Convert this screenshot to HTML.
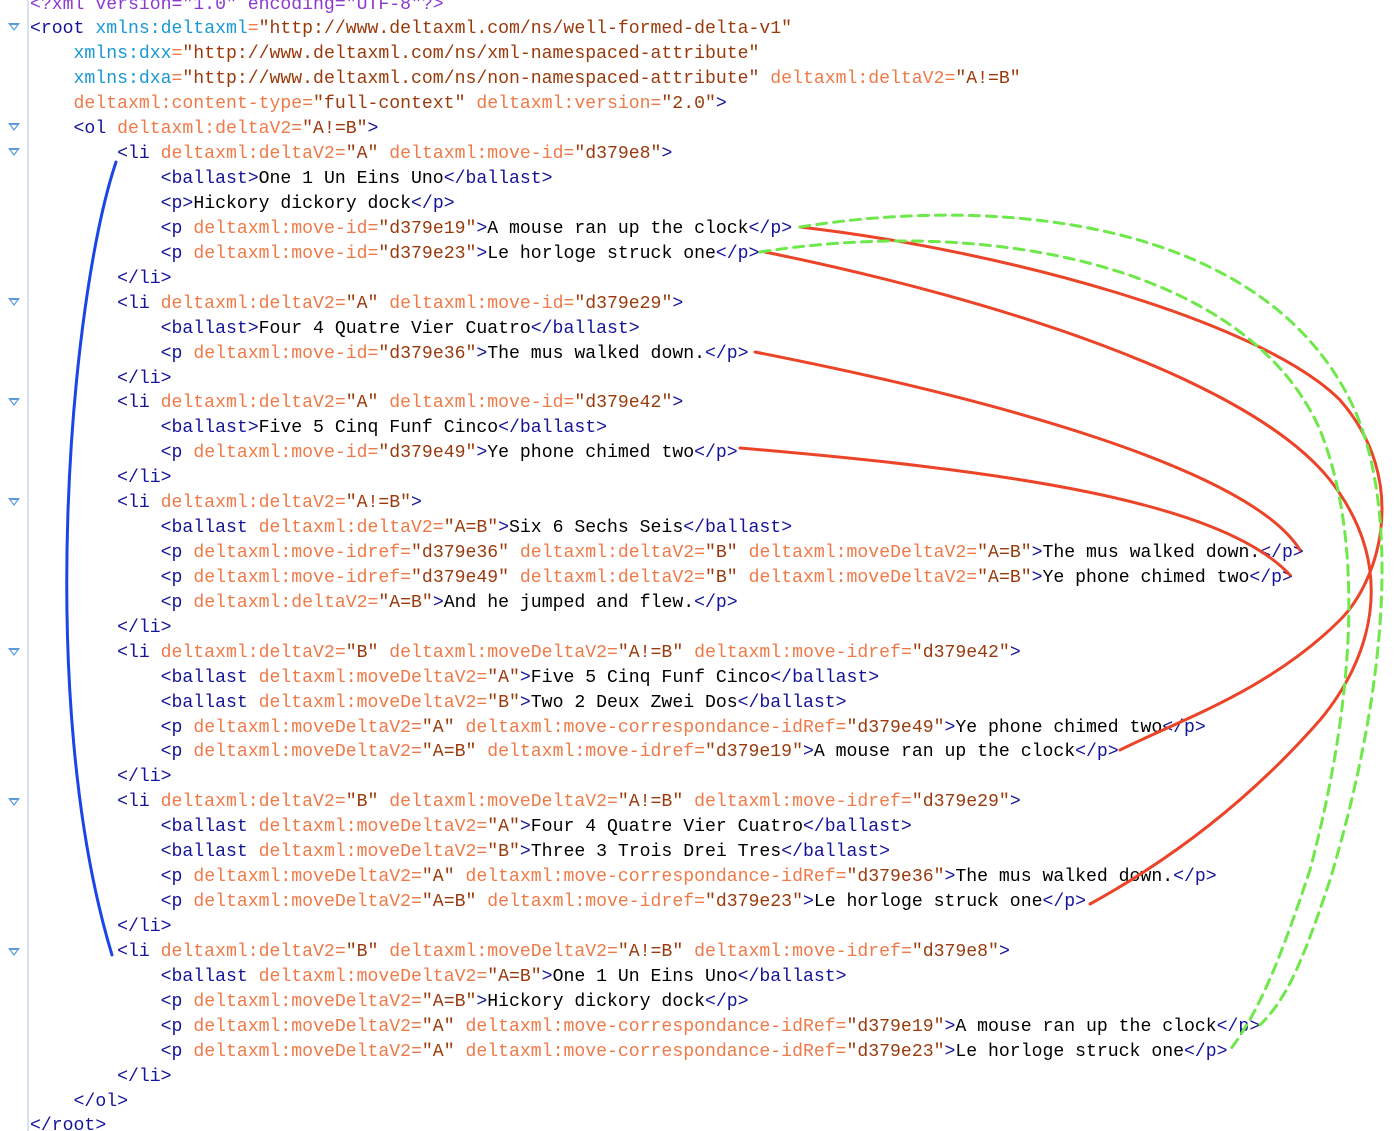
<!DOCTYPE html>
<html><head><meta charset="utf-8"><style>
html,body{margin:0;padding:0;background:#fff;width:1395px;height:1131px;overflow:hidden;position:relative}
.l{position:absolute;left:30px;height:25px;line-height:25px;white-space:pre;font-family:"Liberation Mono",monospace;font-size:18.15px;color:#000;margin-top:3px}
.t{color:#14149a}.a{color:#ef7a48}.v{color:#9a3a0c}.x{color:#1a98d2}.p{color:#8a3ad0}
.g{position:absolute;left:27px;top:0;width:2px;height:1131px;background:#d8e2ee}
.f{position:absolute;left:8px;width:0;height:0;border-left:6px solid transparent;border-right:6px solid transparent;border-top:8px solid #5a9ad8}
.f:after{content:"";position:absolute;left:-3px;top:-6px;border-left:3px solid transparent;border-right:3px solid transparent;border-top:4px solid #fff}
</style></head><body>
<div class="g"></div>
<div class="f" style="top:23px"></div><div class="f" style="top:123px"></div><div class="f" style="top:148px"></div>
<div class="f" style="top:298px"></div><div class="f" style="top:398px"></div><div class="f" style="top:498px"></div>
<div class="f" style="top:648px"></div><div class="f" style="top:798px"></div><div class="f" style="top:948px"></div>
<div class="l" style="top:-10.5px"><span class="p">&lt;?xml version="1.0" encoding="UTF-8"?&gt;</span></div>
<div class="l" style="top:14.4px"><span class="t">&lt;root </span><span class="x">xmlns:deltaxml</span><span class="a">=</span><span class="v">"http://www.deltaxml.com/ns/well-formed-delta-v1"</span></div>
<div class="l" style="top:39.4px">    <span class="x">xmlns:dxx</span><span class="a">=</span><span class="v">"http://www.deltaxml.com/ns/xml-namespaced-attribute"</span></div>
<div class="l" style="top:64.3px">    <span class="x">xmlns:dxa</span><span class="a">=</span><span class="v">"http://www.deltaxml.com/ns/non-namespaced-attribute"</span> <span class="a">deltaxml:deltaV2=</span><span class="v">"A!=B"</span></div>
<div class="l" style="top:89.2px">    <span class="a">deltaxml:content-type=</span><span class="v">"full-context"</span> <span class="a">deltaxml:version=</span><span class="v">"2.0"</span><span class="t">&gt;</span></div>
<div class="l" style="top:114.2px">    <span class="t">&lt;ol </span><span class="a">deltaxml:deltaV2=</span><span class="v">"A!=B"</span><span class="t">&gt;</span></div>
<div class="l" style="top:139.1px">        <span class="t">&lt;li </span><span class="a">deltaxml:deltaV2=</span><span class="v">"A"</span> <span class="a">deltaxml:move-id=</span><span class="v">"d379e8"</span><span class="t">&gt;</span></div>
<div class="l" style="top:164.0px">            <span class="t">&lt;ballast&gt;</span>One 1 Un Eins Uno<span class="t">&lt;/ballast&gt;</span></div>
<div class="l" style="top:189.0px">            <span class="t">&lt;p&gt;</span>Hickory dickory dock<span class="t">&lt;/p&gt;</span></div>
<div class="l" style="top:213.9px">            <span class="t">&lt;p </span><span class="a">deltaxml:move-id=</span><span class="v">"d379e19"</span><span class="t">&gt;</span>A mouse ran up the clock<span class="t">&lt;/p&gt;</span></div>
<div class="l" style="top:238.8px">            <span class="t">&lt;p </span><span class="a">deltaxml:move-id=</span><span class="v">"d379e23"</span><span class="t">&gt;</span>Le horloge struck one<span class="t">&lt;/p&gt;</span></div>
<div class="l" style="top:263.7px">        <span class="t">&lt;/li&gt;</span></div>
<div class="l" style="top:288.7px">        <span class="t">&lt;li </span><span class="a">deltaxml:deltaV2=</span><span class="v">"A"</span> <span class="a">deltaxml:move-id=</span><span class="v">"d379e29"</span><span class="t">&gt;</span></div>
<div class="l" style="top:313.6px">            <span class="t">&lt;ballast&gt;</span>Four 4 Quatre Vier Cuatro<span class="t">&lt;/ballast&gt;</span></div>
<div class="l" style="top:338.5px">            <span class="t">&lt;p </span><span class="a">deltaxml:move-id=</span><span class="v">"d379e36"</span><span class="t">&gt;</span>The mus walked down.<span class="t">&lt;/p&gt;</span></div>
<div class="l" style="top:363.5px">        <span class="t">&lt;/li&gt;</span></div>
<div class="l" style="top:388.4px">        <span class="t">&lt;li </span><span class="a">deltaxml:deltaV2=</span><span class="v">"A"</span> <span class="a">deltaxml:move-id=</span><span class="v">"d379e42"</span><span class="t">&gt;</span></div>
<div class="l" style="top:413.3px">            <span class="t">&lt;ballast&gt;</span>Five 5 Cinq Funf Cinco<span class="t">&lt;/ballast&gt;</span></div>
<div class="l" style="top:438.2px">            <span class="t">&lt;p </span><span class="a">deltaxml:move-id=</span><span class="v">"d379e49"</span><span class="t">&gt;</span>Ye phone chimed two<span class="t">&lt;/p&gt;</span></div>
<div class="l" style="top:463.2px">        <span class="t">&lt;/li&gt;</span></div>
<div class="l" style="top:488.1px">        <span class="t">&lt;li </span><span class="a">deltaxml:deltaV2=</span><span class="v">"A!=B"</span><span class="t">&gt;</span></div>
<div class="l" style="top:513.0px">            <span class="t">&lt;ballast </span><span class="a">deltaxml:deltaV2=</span><span class="v">"A=B"</span><span class="t">&gt;</span>Six 6 Sechs Seis<span class="t">&lt;/ballast&gt;</span></div>
<div class="l" style="top:538.0px">            <span class="t">&lt;p </span><span class="a">deltaxml:move-idref=</span><span class="v">"d379e36"</span> <span class="a">deltaxml:deltaV2=</span><span class="v">"B"</span> <span class="a">deltaxml:moveDeltaV2=</span><span class="v">"A=B"</span><span class="t">&gt;</span>The mus walked down.<span class="t">&lt;/p&gt;</span></div>
<div class="l" style="top:562.9px">            <span class="t">&lt;p </span><span class="a">deltaxml:move-idref=</span><span class="v">"d379e49"</span> <span class="a">deltaxml:deltaV2=</span><span class="v">"B"</span> <span class="a">deltaxml:moveDeltaV2=</span><span class="v">"A=B"</span><span class="t">&gt;</span>Ye phone chimed two<span class="t">&lt;/p&gt;</span></div>
<div class="l" style="top:587.8px">            <span class="t">&lt;p </span><span class="a">deltaxml:deltaV2=</span><span class="v">"A=B"</span><span class="t">&gt;</span>And he jumped and flew.<span class="t">&lt;/p&gt;</span></div>
<div class="l" style="top:612.8px">        <span class="t">&lt;/li&gt;</span></div>
<div class="l" style="top:637.7px">        <span class="t">&lt;li </span><span class="a">deltaxml:deltaV2=</span><span class="v">"B"</span> <span class="a">deltaxml:moveDeltaV2=</span><span class="v">"A!=B"</span> <span class="a">deltaxml:move-idref=</span><span class="v">"d379e42"</span><span class="t">&gt;</span></div>
<div class="l" style="top:662.6px">            <span class="t">&lt;ballast </span><span class="a">deltaxml:moveDeltaV2=</span><span class="v">"A"</span><span class="t">&gt;</span>Five 5 Cinq Funf Cinco<span class="t">&lt;/ballast&gt;</span></div>
<div class="l" style="top:687.5px">            <span class="t">&lt;ballast </span><span class="a">deltaxml:moveDeltaV2=</span><span class="v">"B"</span><span class="t">&gt;</span>Two 2 Deux Zwei Dos<span class="t">&lt;/ballast&gt;</span></div>
<div class="l" style="top:712.5px">            <span class="t">&lt;p </span><span class="a">deltaxml:moveDeltaV2=</span><span class="v">"A"</span> <span class="a">deltaxml:move-correspondance-idRef=</span><span class="v">"d379e49"</span><span class="t">&gt;</span>Ye phone chimed two<span class="t">&lt;/p&gt;</span></div>
<div class="l" style="top:737.4px">            <span class="t">&lt;p </span><span class="a">deltaxml:moveDeltaV2=</span><span class="v">"A=B"</span> <span class="a">deltaxml:move-idref=</span><span class="v">"d379e19"</span><span class="t">&gt;</span>A mouse ran up the clock<span class="t">&lt;/p&gt;</span></div>
<div class="l" style="top:762.3px">        <span class="t">&lt;/li&gt;</span></div>
<div class="l" style="top:787.3px">        <span class="t">&lt;li </span><span class="a">deltaxml:deltaV2=</span><span class="v">"B"</span> <span class="a">deltaxml:moveDeltaV2=</span><span class="v">"A!=B"</span> <span class="a">deltaxml:move-idref=</span><span class="v">"d379e29"</span><span class="t">&gt;</span></div>
<div class="l" style="top:812.2px">            <span class="t">&lt;ballast </span><span class="a">deltaxml:moveDeltaV2=</span><span class="v">"A"</span><span class="t">&gt;</span>Four 4 Quatre Vier Cuatro<span class="t">&lt;/ballast&gt;</span></div>
<div class="l" style="top:837.1px">            <span class="t">&lt;ballast </span><span class="a">deltaxml:moveDeltaV2=</span><span class="v">"B"</span><span class="t">&gt;</span>Three 3 Trois Drei Tres<span class="t">&lt;/ballast&gt;</span></div>
<div class="l" style="top:862.1px">            <span class="t">&lt;p </span><span class="a">deltaxml:moveDeltaV2=</span><span class="v">"A"</span> <span class="a">deltaxml:move-correspondance-idRef=</span><span class="v">"d379e36"</span><span class="t">&gt;</span>The mus walked down.<span class="t">&lt;/p&gt;</span></div>
<div class="l" style="top:887.0px">            <span class="t">&lt;p </span><span class="a">deltaxml:moveDeltaV2=</span><span class="v">"A=B"</span> <span class="a">deltaxml:move-idref=</span><span class="v">"d379e23"</span><span class="t">&gt;</span>Le horloge struck one<span class="t">&lt;/p&gt;</span></div>
<div class="l" style="top:911.9px">        <span class="t">&lt;/li&gt;</span></div>
<div class="l" style="top:936.9px">        <span class="t">&lt;li </span><span class="a">deltaxml:deltaV2=</span><span class="v">"B"</span> <span class="a">deltaxml:moveDeltaV2=</span><span class="v">"A!=B"</span> <span class="a">deltaxml:move-idref=</span><span class="v">"d379e8"</span><span class="t">&gt;</span></div>
<div class="l" style="top:961.8px">            <span class="t">&lt;ballast </span><span class="a">deltaxml:moveDeltaV2=</span><span class="v">"A=B"</span><span class="t">&gt;</span>One 1 Un Eins Uno<span class="t">&lt;/ballast&gt;</span></div>
<div class="l" style="top:986.7px">            <span class="t">&lt;p </span><span class="a">deltaxml:moveDeltaV2=</span><span class="v">"A=B"</span><span class="t">&gt;</span>Hickory dickory dock<span class="t">&lt;/p&gt;</span></div>
<div class="l" style="top:1011.7px">            <span class="t">&lt;p </span><span class="a">deltaxml:moveDeltaV2=</span><span class="v">"A"</span> <span class="a">deltaxml:move-correspondance-idRef=</span><span class="v">"d379e19"</span><span class="t">&gt;</span>A mouse ran up the clock<span class="t">&lt;/p&gt;</span></div>
<div class="l" style="top:1036.6px">            <span class="t">&lt;p </span><span class="a">deltaxml:moveDeltaV2=</span><span class="v">"A"</span> <span class="a">deltaxml:move-correspondance-idRef=</span><span class="v">"d379e23"</span><span class="t">&gt;</span>Le horloge struck one<span class="t">&lt;/p&gt;</span></div>
<div class="l" style="top:1061.5px">        <span class="t">&lt;/li&gt;</span></div>
<div class="l" style="top:1086.5px">    <span class="t">&lt;/ol&gt;</span></div>
<div class="l" style="top:1111.4px"><span class="t">&lt;/root&gt;</span></div>
<svg style="position:absolute;left:0;top:0" width="1395" height="1131" fill="none" stroke-width="3" stroke-linecap="round">
<path d="M116,162 C70,300 35,700 112,955" stroke="#1a46e8"/>
<path d="M800,227 C1000,250 1260,320 1340,400 C1410,480 1380,580 1340,620 C1270,690 1180,720 1120,750" stroke="#ec4428"/>
<path d="M765,252 C1000,300 1250,380 1330,480 C1400,570 1370,660 1320,720 C1250,800 1170,860 1090,904" stroke="#ec4428"/>
<path d="M755,352 C1000,400 1250,470 1300,550" stroke="#ec4428"/>
<path d="M740,448 C1000,470 1220,500 1290,575" stroke="#ec4428"/>
<path d="M800,227 C1000,195 1260,220 1350,400 C1400,500 1390,680 1330,880 C1300,970 1285,1000 1260,1025" stroke="#6ee84a" stroke-dasharray="10,7"/>
<path d="M760,252 C1000,215 1250,270 1320,430 C1360,530 1360,680 1310,870 C1280,960 1260,1010 1230,1050" stroke="#6ee84a" stroke-dasharray="10,7"/>
</svg>
</body></html>
